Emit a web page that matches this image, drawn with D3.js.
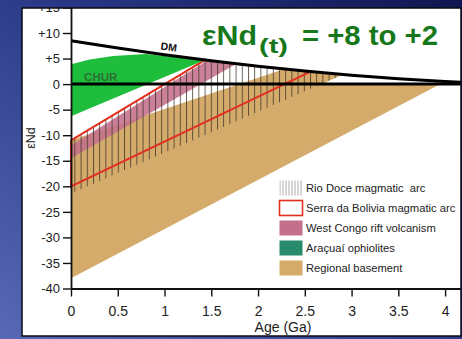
<!DOCTYPE html>
<html>
<head>
<meta charset="utf-8">
<style>
  html, body { margin: 0; padding: 0; overflow: hidden; background: #1a2266; }
  svg { display: block; font-family: "Liberation Sans", Arial, sans-serif; }
</style>
</head>
<body>
<svg width="462" height="339"></svg>
<script src="https://cdn.jsdelivr.net/npm/d3@7"></script>
<script>
// ---- data ----
var yTicks = [15, 10, 5, 0, -5, -10, -15, -20, -25, -30, -35, -40];
var yTickLabels = ["+15", "+10", "+5", "0", "-5", "-10", "-15", "-20", "-25", "-30", "-35", "-40"];
var xTicks = [0, 0.5, 1, 1.5, 2, 2.5, 3, 3.5, 4];
var xTickLabels = ["0", "0.5", "1", "1.5", "2", "2.5", "3", "3.5", "4"];

// depleted mantle curve (age Ga, eNd)
var dmAge = [0, 0.5, 1, 1.5, 2, 2.5, 3, 3.5, 4, 4.5];
var dmEps = [8.5, 7.06, 5.75, 4.56, 3.5, 2.56, 1.75, 1.06, 0.5, 0.06];

// CHUR
var churAge = [0, 4.5];
var churEps = [0, 0];

// fields as [age, eNd] outlines
var basement = [[0, -11], [2.29, 3.0], [2.56, 2.45], [2.91, 1.88], [2.68, 0], [3.95, 0], [0, -38]];
var westCongo = [[0, -12], [1.46, 4.65], [1.62, 4.3], [1.77, 3.97], [0, -14.5]];
var rioDoce = [[0, -11], [1.43, 4.7], [1.8, 3.9], [2.2, 3.1], [2.56, 2.45], [2.91, 1.88], [0, -21.4]];
var serraBolivia = [[0, -11], [1.43, 4.7], [1.8, 3.9], [2.2, 3.1], [2.56, 2.45], [0, -20]];
var highlight = [[0, 3.9], [0.2, 4.8], [0.45, 5.5], [0.8, 5.9], [1.1, 5.3], [1.42, 4.6], [0, -6.3]];

var legendLabels = ["Rio Doce magmatic  arc", "Serra da Bolivia magmatic arc",
  "West Congo rift volcanism", "Araçuaí ophiolites", "Regional basement"];

// ---- setup ----
var svg = d3.select("svg");
var w = 462, h = 339;
var panel = { x: 22, y: 8, w: 439, h: 328 };

var x = d3.scaleLinear().domain([0, 4.17]).range([71, 461]);
var y = d3.scaleLinear().domain([-40, 15]).range([288.5, 7.45]);

var defs = svg.append("defs");

var bg = defs.append("linearGradient")
  .attr("id", "bg")
  .attr("x1", 1).attr("y1", 0).attr("x2", 0).attr("y2", 1);
bg.append("stop").attr("offset", 0).attr("stop-color", "#10164f");
bg.append("stop").attr("offset", 0.45).attr("stop-color", "#2a3888");
bg.append("stop").attr("offset", 1).attr("stop-color", "#5868b6");

defs.append("clipPath").attr("id", "panelClip")
  .append("rect")
  .attr("x", panel.x).attr("y", panel.y)
  .attr("width", panel.w).attr("height", panel.h);

// hatch for the Rio Doce field
var hatch = defs.append("pattern")
  .attr("id", "hatch")
  .attr("patternUnits", "userSpaceOnUse")
  .attr("width", 6.2).attr("height", 10);
hatch.append("line")
  .attr("x1", 0.5).attr("x2", 0.5).attr("y1", 0).attr("y2", 10)
  .attr("stroke", "#3a3025").attr("stroke-width", 0.8);

var hatchKey = defs.append("pattern")
  .attr("id", "hatchKey")
  .attr("patternUnits", "userSpaceOnUse")
  .attr("width", 3).attr("height", 10);
hatchKey.append("line")
  .attr("x1", 1).attr("x2", 1).attr("y1", 0).attr("y2", 10)
  .attr("stroke", "#8a8a8a").attr("stroke-width", 0.7);

// background + white panel
svg.append("rect").attr("width", w).attr("height", h).attr("fill", "url(#bg)");
svg.append("rect")
  .attr("x", panel.x).attr("y", panel.y)
  .attr("width", panel.w).attr("height", panel.h)
  .attr("fill", "#fff");

var chart = svg.append("g").attr("clip-path", "url(#panelClip)");

var area = d3.line()
  .x(function(d) { return x(d[0]); })
  .y(function(d) { return y(d[1]); });

// fields
chart.append("path").datum(basement)
  .attr("d", function(d) { return area(d) + "Z"; })
  .attr("fill", "#d4ab6b");

chart.append("path").datum(westCongo)
  .attr("d", function(d) { return area(d) + "Z"; })
  .attr("fill", "#c4708c")
  .attr("fill-opacity", 0.88);

chart.append("path").datum(rioDoce)
  .attr("d", function(d) { return area(d) + "Z"; })
  .attr("fill", "url(#hatch)");

chart.append("path").datum(serraBolivia)
  .attr("d", function(d) { return area(d) + "Z"; })
  .attr("fill", "none")
  .attr("stroke", "#e2301f")
  .attr("stroke-width", 2);

chart.append("path").datum(highlight)
  .attr("d", function(d) { return area(d) + "Z"; })
  .attr("fill", "#1fbd3c");

// reference lines
var churLine = d3.zip(churAge, churEps);
var dmLine = d3.zip(dmAge, dmEps);
var curve = d3.line()
  .x(function(d) { return x(d[0]); })
  .y(function(d) { return y(d[1]); })
  .curve(d3.curveMonotoneX);

chart.append("path").datum(churLine)
  .attr("d", curve)
  .attr("fill", "none")
  .attr("stroke", "#000")
  .attr("stroke-width", 3);

chart.append("path").datum(dmLine)
  .attr("d", curve)
  .attr("fill", "none")
  .attr("stroke", "#000")
  .attr("stroke-width", 3);

chart.append("text")
  .attr("x", x(0.14)).attr("y", y(0) - 3)
  .attr("font-size", 11.5)
  .attr("font-weight", "bold")
  .attr("fill", "#2c6f36")
  .text("CHUR");

var dmLabelAge = 1.04;
chart.append("text")
  .attr("transform", "translate(" + x(dmLabelAge) + "," + (y(5.6) - 5) + ") rotate(7.5)")
  .attr("text-anchor", "middle")
  .attr("font-size", 10.5)
  .attr("font-weight", "bold")
  .attr("fill", "#111")
  .text("DM");

// axes
var yAxis = d3.axisLeft(y)
  .tickValues(yTicks)
  .tickSize(8)
  .tickSizeOuter(0)
  .tickPadding(3)
  .tickFormat(function(d, i) { return yTickLabels[i]; });

var xAxis = d3.axisBottom(x)
  .tickValues(xTicks)
  .tickSize(8)
  .tickSizeOuter(0)
  .tickPadding(10)
  .tickFormat(function(d, i) { return xTickLabels[i]; });

var gy = chart.append("g")
  .attr("transform", "translate(" + x(0) + ",0)")
  .call(yAxis);
gy.selectAll("text").attr("font-size", 13).attr("fill", "#222")
  .attr("font-family", "Liberation Sans, Arial, sans-serif");

var gx = chart.append("g")
  .attr("transform", "translate(0," + y(-40) + ")")
  .call(xAxis);
gx.selectAll("text").attr("font-size", 14).attr("fill", "#222")
  .attr("font-family", "Liberation Sans, Arial, sans-serif");

svg.selectAll(".domain").attr("stroke", "#111").attr("stroke-width", 1.8);
svg.selectAll(".tick line").attr("stroke", "#111").attr("stroke-width", 1.4);

chart.append("text")
  .attr("x", 283).attr("y", 332)
  .attr("text-anchor", "middle")
  .attr("font-size", 14)
  .attr("fill", "#222")
  .text("Age (Ga)");

chart.append("text")
  .attr("transform", "translate(35,138) rotate(-90)")
  .attr("text-anchor", "middle")
  .attr("font-size", 12.5)
  .attr("fill", "#222")
  .text("εNd");

// title
var title = chart.append("g").attr("fill", "#16781a").attr("font-weight", "bold");
title.append("text").attr("x", 202).attr("y", 45).attr("font-size", 28)
  .attr("textLength", 55).attr("lengthAdjust", "spacingAndGlyphs")
  .text("εNd");
title.append("text").attr("x", 259).attr("y", 53).attr("font-size", 21)
  .attr("textLength", 29).attr("lengthAdjust", "spacingAndGlyphs")
  .text("(t)");
title.append("text").attr("x", 302).attr("y", 45).attr("font-size", 28)
  .attr("textLength", 136).attr("lengthAdjust", "spacingAndGlyphs")
  .text("= +8 to +2");

// legend
var legend = chart.append("g").attr("transform", "translate(279,180)");
var keys = legend.selectAll("g")
  .data(legendLabels)
  .enter().append("g")
  .attr("transform", function(d, i) { return "translate(0," + i * 20 + ")"; });

var keyFill = ["url(#hatchKey)", "#fff", "#c4708c", "#2a8a6c", "#d4ab6b"];
keys.append("rect")
  .attr("x", 0.5).attr("y", 0.5)
  .attr("width", 23).attr("height", 15)
  .attr("fill", function(d, i) { return keyFill[i]; })
  .attr("stroke", function(d, i) { return i === 1 ? "#e2301f" : "none"; })
  .attr("stroke-width", 1.6);

keys.append("text")
  .attr("x", 27).attr("y", 12)
  .attr("font-size", 11.2)
  .attr("fill", "#222")
  .style("white-space", "pre")
  .text(function(d) { return d; });

// panel border on top
svg.append("rect")
  .attr("x", panel.x).attr("y", panel.y)
  .attr("width", panel.w).attr("height", panel.h)
  .attr("fill", "none")
  .attr("stroke", "#0a0a14")
  .attr("stroke-width", 1.5);
</script>
</body>
</html>
